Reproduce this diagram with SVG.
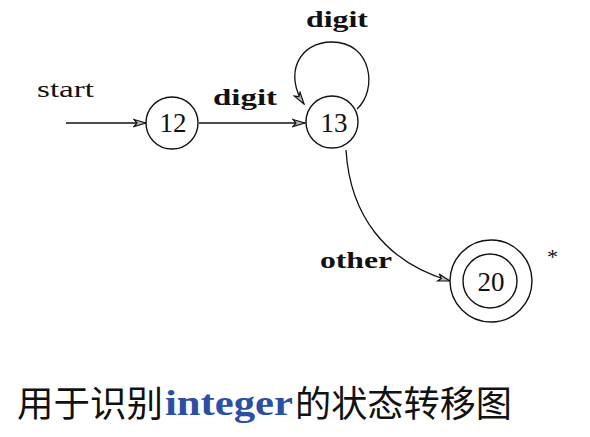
<svg xmlns="http://www.w3.org/2000/svg" width="590" height="437" viewBox="0 0 590 437">
<defs>
<style>
.n{fill:#fff;stroke:#111;stroke-width:1.4}
.e{fill:none;stroke:#111;stroke-width:1.3}
.num{font-family:'Liberation Serif','Times New Roman',Times,serif;font-size:27px;fill:#111;text-anchor:middle}
.lbl{font-family:'Liberation Serif','Times New Roman',Times,serif;font-weight:bold;font-size:24px;fill:#111}
.cap{font-family:'Noto Sans CJK SC',sans-serif;font-size:36px;fill:#111}
</style>
<marker id="ah" viewBox="0 0 14 10" refX="13" refY="5" markerWidth="14" markerHeight="10" markerUnits="userSpaceOnUse" orient="auto">
<path d="M1,1.5 L13,5 L1,8.5 L4,5 Z" fill="#bbb" stroke="#111" stroke-width="1.2"/>
</marker>
</defs>
<rect width="590" height="437" fill="#fff"/>
<g id="connectors">
<path class="e" d="M66,123 L146,123" marker-end="url(#ah)"/>
<path class="e" d="M199,123 L305,123" marker-end="url(#ah)"/>
<path class="e" d="M357,109 C378,90 372,42 332,42 C298,42 284,75 304,104" marker-end="url(#ah)"/>
<path class="e" d="M346,150 C350,215 385,262 450,281" marker-end="url(#ah)"/>
</g>
<g id="start-label"><text class="lbl" x="37" y="97" style="font-weight:normal" textLength="57" lengthAdjust="spacingAndGlyphs">start</text></g>
<g id="label-digit-12-13"><text class="lbl" x="213" y="105" textLength="64" lengthAdjust="spacingAndGlyphs">digit</text></g>
<g id="label-digit-loop"><text class="lbl" x="306" y="27" textLength="62" lengthAdjust="spacingAndGlyphs">digit</text></g>
<g id="label-other"><text class="lbl" x="320" y="268" textLength="72" lengthAdjust="spacingAndGlyphs">other</text></g>
<g id="node-12"><circle class="n" cx="172" cy="123" r="26"/><text class="num" x="173" y="132">12</text></g>
<g id="node-13"><circle class="n" cx="332" cy="122" r="26"/><text class="num" x="334" y="132">13</text></g>
<g id="node-20"><circle class="n" cx="491" cy="281" r="41"/><circle class="n" cx="490" cy="281" r="27"/><text class="num" x="491" y="291">20</text></g>
<g id="star"><text x="547" y="264" font-family="'Liberation Serif','Times New Roman',serif" font-size="22" fill="#111">*</text></g>
<g id="caption">
<text class="cap" x="17" y="417" textLength="146" lengthAdjust="spacingAndGlyphs">用于识别</text>
<text x="165" y="415" font-family="'Liberation Serif','Times New Roman',serif" font-weight="bold" font-size="36" fill="#2a4fa3" textLength="128" lengthAdjust="spacingAndGlyphs">integer</text>
<text class="cap" x="295" y="417" textLength="217" lengthAdjust="spacingAndGlyphs">的状态转移图</text>
</g>
</svg>
